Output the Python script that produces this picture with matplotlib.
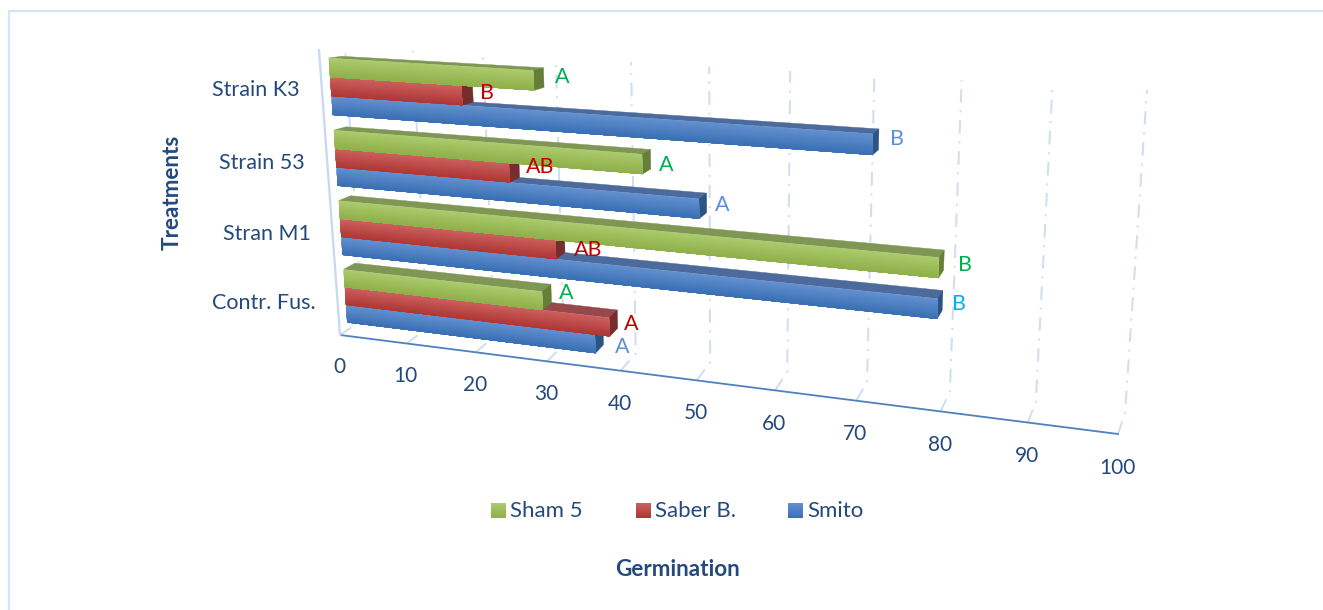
#!/usr/bin/env python3
import numpy as np
import matplotlib
matplotlib.use("Agg")
import matplotlib.pyplot as plt
from matplotlib.patches import Polygon

plt.rcParams["font.family"] = ["Lato", "DejaVu Sans"]

categories = ["Contr. Fus.", "Stran M1", "Strain 53", "Strain K3"]
series = ["Smito", "Saber B.", "Sham 5"]
smito = [35.9, 78.9, 49.9, 70.9]
saber = [37.9, 30.9, 24.9, 18.8]
sham = [28.8, 78.9, 42.7, 28.7]
smito_letters = ["A", "B", "A", "B"]
saber_letters = ["A", "AB", "AB", "B"]
sham_letters = ["A", "B", "A", "A"]
ticks = [0, 10, 20, 30, 40, 50, 60, 70, 80, 90, 100]

W, H = 1323, 610
TXT = "#24497C"
GRID = "#CFDDF0"


def homography(pts):
    # unit square -> pixel corners, pts are (0,0) (1,0) (0,1) (1,1)
    src = [(0, 0), (1, 0), (0, 1), (1, 1)]
    a, b = [], []
    for (u, v), (x, y) in zip(src, pts):
        a.append([u, v, 1, 0, 0, 0, -u * x, -v * x])
        a.append([0, 0, 0, u, v, 1, -u * y, -v * y])
        b += [x, y]
    return np.append(np.linalg.solve(np.array(a, float), np.array(b, float)), 1).reshape(3, 3)


front = homography([(340, 335), (1118, 434), (319, 50), (1139, 100)])
back = homography([(362, 320), (1125, 413), (345, 47), (1147, 90)])


def proj(v, h, d=0.0):
    p = np.array([v / 100.0, h, 1.0])
    a = front @ p
    b = back @ p
    return (1 - d) * a[:2] / a[2] + d * b[:2] / b[2]


fig = plt.figure(figsize=(W / 100, H / 100), dpi=100)
ax = fig.add_axes([0, 0, 1, 1])
ax.set_xlim(0, W)
ax.set_ylim(H, 0)
ax.axis("off")

# chart frame
ax.plot([1323, 8.5, 8.5], [11, 11, 610], color="#D5E3F4", lw=1.6, zorder=1)

# gridlines: floor then back wall
for t in ticks:
    pts = np.array([proj(t, 0, 0), proj(t, 0, 1), proj(t, 1, 1)])
    ax.plot(pts[:, 0], pts[:, 1], color=GRID, lw=1.4, ls=(0, (7, 4, 1, 4)), zorder=1)

# axis lines
p = np.array([proj(0, 0), proj(100, 0)])
ax.plot(p[:, 0], p[:, 1], color="#4F81BD", lw=1.3, zorder=2)
p = np.array([proj(0, 0), proj(0, 1)])
ax.plot(p[:, 0], p[:, 1], color="#C6D9F1", lw=1.6, zorder=2)

for t in ticks:
    x, y = proj(t, 0)
    ax.text(x - 1, y + 32 + t * 0.02, str(t), color=TXT, fontsize=15, ha="center", va="center")

pad = 0.027
bar_h = (0.25 - 2 * pad) / 3
d0, d1 = 0.35, 0.85
colors = {
    "Smito": ("#6290D0", "#3A70B4", "#4C6A9C", "#2B5384"),
    "Saber B.": ("#CC5F5D", "#AE3836", "#96494A", "#772C2D"),
    "Sham 5": ("#ABCB6C", "#8FB04B", "#7F9655", "#657F39"),
}
label_col = {"Smito": "#5B90DA", "Saber B.": "#C00000", "Sham 5": "#00B050"}


def face(pts, col, z):
    ax.add_patch(Polygon(pts, closed=True, fc=col, ec=col, lw=0.3, zorder=z))


def gradient_quad(v, h0, h1, top, bot, z, n=16):
    # front face of a bar, strips overlap down to the bottom edge so no seams show
    c0 = np.array(matplotlib.colors.to_rgb(top))
    c1 = np.array(matplotlib.colors.to_rgb(bot))
    hs = np.linspace(h1, h0, n + 1)
    for k in range(n):
        col = c0 + (c1 - c0) * k / (n - 1)
        ax.add_patch(Polygon([proj(0, hs[k], d0), proj(v, hs[k], d0), proj(v, h0, d0), proj(0, h0, d0)],
                             closed=True, fc=col, ec="none", zorder=z))


values = {"Smito": smito, "Saber B.": saber, "Sham 5": sham}
letters = {"Smito": smito_letters, "Saber B.": saber_letters, "Sham 5": sham_letters}
label_dx = {"Smito": [12, 10, 8, 11], "Saber B.": [7, 9, 7, 7], "Sham 5": [8, 14, 8, 11]}
label_dy = {"Smito": [11, 3, 2, 0], "Saber B.": [5, 7, -1, 0], "Sham 5": [0, 5, 6, -1]}

z = 3
for i, cat in enumerate(categories):
    base = i / 4 * 0.995 + pad
    x, y = proj(0, base + 1.5 * bar_h, 0)
    ax.text(x - 22, y + 2, cat, color=TXT, fontsize=15.5, ha="right", va="center")
    for j, s in enumerate(series):
        v = values[s][i]
        h0 = base + j * bar_h
        h1 = h0 + bar_h
        top, bot, roof, side = colors[s]
        face([proj(0, h1, d0), proj(v, h1, d0), proj(v, h1, d1), proj(0, h1, d1)], roof, z)
        face([proj(v, h0, d0), proj(v, h1, d0), proj(v, h1, d1), proj(v, h0, d1)], side, z)
        gradient_quad(v, h0, h1, top, bot, z)
        z += 1
        ex, ey = proj(v, (h0 + h1) / 2, d1)
        col = label_col[s]
        if s == "Smito" and cat == "Stran M1":
            col = "#00B0F0"
        ax.text(ex + label_dx[s][i], ey + label_dy[s][i], letters[s][i], color=col, fontsize=15.5,
                ha="left", va="center", zorder=50)

# legend
legend_x = [491, 636, 788]
for s, lx in zip(["Sham 5", "Saber B.", "Smito"], legend_x):
    top, bot = colors[s][:2]
    grad = np.linspace(0, 1, 16)[:, None, None]
    img = np.array(matplotlib.colors.to_rgb(top)) * (1 - grad) + np.array(matplotlib.colors.to_rgb(bot)) * grad
    ax.imshow(img, extent=(lx, lx + 14.5, 518, 503), aspect="auto", zorder=5)
    ax.text(lx + 19, 511, s, color=TXT, fontsize=16, ha="left", va="center")
ax.set_xlim(0, W)
ax.set_ylim(H, 0)

ax.text(678, 569, "Germination", color=TXT, fontsize=16.2, fontweight="bold", ha="center", va="center")
ax.text(172, 192, "Treatments", color=TXT, fontsize=16.2, fontweight="bold", ha="center", va="center", rotation=90)

fig.savefig("out.png", dpi=100)
